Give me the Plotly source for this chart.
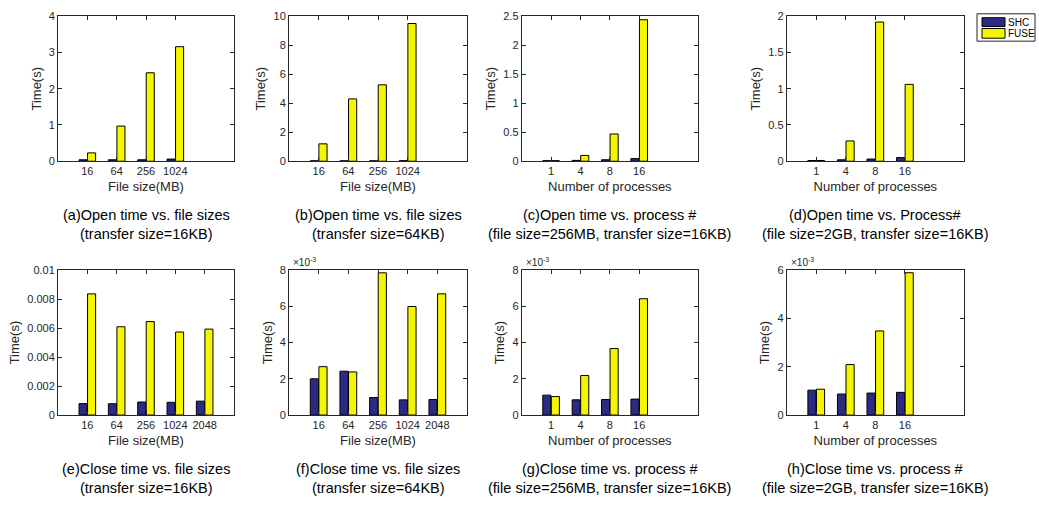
import plotly.graph_objects as go

W, H = 1039, 506

size_cats4 = ["16", "64", "256", "1024"]
size_cats5 = ["16", "64", "256", "1024", "2048"]
proc_cats = ["1", "4", "8", "16"]
series_names = ["SHC", "FUSE"]

# (a) Open time vs file sizes, transfer 16KB
a_shc = [0.04, 0.04, 0.04, 0.06]
a_fuse = [0.23, 0.97, 2.44, 3.16]
# (b) Open time vs file sizes, transfer 64KB
b_shc = [0.03, 0.03, 0.03, 0.04]
b_fuse = [1.2, 4.3, 5.27, 9.5]
# (c) Open time vs process #, 256MB
c_shc = [0.01, 0.015, 0.025, 0.045]
c_fuse = [0.01, 0.1, 0.47, 2.44]
# (d) Open time vs process #, 2GB
d_shc = [0.01, 0.02, 0.03, 0.05]
d_fuse = [0.01, 0.28, 1.92, 1.06]
# (e) Close time vs file sizes, 16KB
e_shc = [0.00079, 0.00078, 0.00090, 0.00088, 0.00096]
e_fuse = [0.00836, 0.00609, 0.00645, 0.00573, 0.00593]
# (f) Close time vs file sizes, 64KB
f_shc = [0.00200, 0.00242, 0.00097, 0.00084, 0.00086]
f_fuse = [0.00267, 0.00238, 0.00785, 0.00599, 0.00669]
# (g) Close time vs process #, 256MB
g_shc = [0.00110, 0.00084, 0.00086, 0.00088]
g_fuse = [0.00102, 0.00218, 0.00367, 0.00642]
# (h) Close time vs process #, 2GB
h_shc = [0.00103, 0.00087, 0.00091, 0.00094]
h_fuse = [0.00107, 0.00209, 0.00348, 0.00589]

captions = [
    ("(a)Open time vs. file sizes", "(transfer size=16KB)"),
    ("(b)Open time vs. file sizes", "(transfer size=64KB)"),
    ("(c)Open time vs. process #", "(file size=256MB, transfer size=16KB)"),
    ("(d)Open time vs. Process#", "(file size=2GB, transfer size=16KB)"),
    ("(e)Close time vs. file sizes", "(transfer size=16KB)"),
    ("(f)Close time vs. file sizes", "(transfer size=64KB)"),
    ("(g)Close time vs. process #", "(file size=256MB, transfer size=16KB)"),
    ("(h)Close time vs. process #", "(file size=2GB, transfer size=16KB)"),
]

xlabels = ["File size(MB)", "File size(MB)", "Number of processes", "Number of processes",
           "File size(MB)", "File size(MB)", "Number of processes", "Number of processes"]

panels = [
    (size_cats4, a_shc, a_fuse, [0, 4], [0, 1, 2, 3, 4], ["0", "1", "2", "3", "4"], False),
    (size_cats4, b_shc, b_fuse, [0, 10], [0, 2, 4, 6, 8, 10], ["0", "2", "4", "6", "8", "10"], False),
    (proc_cats, c_shc, c_fuse, [0, 2.5], [0, 0.5, 1, 1.5, 2, 2.5], ["0", "0.5", "1", "1.5", "2", "2.5"], False),
    (proc_cats, d_shc, d_fuse, [0, 2], [0, 0.5, 1, 1.5, 2], ["0", "0.5", "1", "1.5", "2"], False),
    (size_cats5, e_shc, e_fuse, [0, 0.01], [0, 0.002, 0.004, 0.006, 0.008, 0.01],
     ["0", "0.002", "0.004", "0.006", "0.008", "0.01"], False),
    (size_cats5, f_shc, f_fuse, [0, 0.008], [0, 0.002, 0.004, 0.006, 0.008], ["0", "2", "4", "6", "8"], True),
    (proc_cats, g_shc, g_fuse, [0, 0.008], [0, 0.002, 0.004, 0.006, 0.008], ["0", "2", "4", "6", "8"], True),
    (proc_cats, h_shc, h_fuse, [0, 0.006], [0, 0.002, 0.004, 0.006], ["0", "2", "4", "6"], True),
]

col_px = [(58, 234), (289, 467), (521.7, 698), (786.7, 964)]
row_px = [(10.5, 159), (270.5, 419)]
caption_px = [(214, 234), (474, 494)]

SHC_COLOR = "#2b2b86"
FUSE_COLOR = "#f5f500"
COLORS = [SHC_COLOR, FUSE_COLOR]
AX = "#262626"
FONT = "Liberation Sans, Arial, Helvetica, sans-serif"

fig = go.Figure()
annotations = []
shapes = []

for i, (cats, shc, fuse, yr, tv, tt, expo) in enumerate(panels):
    r, c = divmod(i, 4)
    n = i + 1
    xa = "x" if n == 1 else f"x{n}"
    ya = "y" if n == 1 else f"y{n}"
    xs = list(range(1, len(cats) + 1))
    fig.add_trace(go.Bar(x=xs, y=shc, name="SHC", marker=dict(color=SHC_COLOR, line=dict(color="black", width=1)),
                         xaxis=xa, yaxis=ya, showlegend=False, legendgroup="SHC", offsetgroup="SHC"))
    fig.add_trace(go.Bar(x=xs, y=fuse, name="FUSE", marker=dict(color=FUSE_COLOR, line=dict(color="black", width=1)),
                         xaxis=xa, yaxis=ya, showlegend=False, legendgroup="FUSE", offsetgroup="FUSE"))
    x0, x1 = col_px[c]
    y0, y1 = row_px[r]
    xkey = "xaxis" if n == 1 else f"xaxis{n}"
    ykey = "yaxis" if n == 1 else f"yaxis{n}"
    fig.update_layout(**{
        xkey: dict(domain=[x0 / W, x1 / W], anchor=ya, range=[0, 6], tickmode="array",
                   tickvals=xs, ticktext=cats, ticks="inside", ticklen=4, tickcolor=AX,
                   showline=True, linecolor=AX, linewidth=1, mirror="allticks", showgrid=False,
                   zeroline=False, tickfont=dict(size=11, color=AX, family=FONT),
                   title=dict(text=xlabels[i], font=dict(size=13, color=AX, family=FONT), standoff=5)),
        ykey: dict(domain=[1 - y1 / H, 1 - y0 / H], anchor=xa, range=yr, tickmode="array",
                   tickvals=tv, ticktext=tt, ticks="inside", ticklen=4, tickcolor=AX,
                   showline=True, linecolor=AX, linewidth=1, mirror="allticks", showgrid=False,
                   zeroline=False, tickfont=dict(size=11, color=AX, family=FONT),
                   title=dict(text="Time(s)", font=dict(size=13, color=AX, family=FONT), standoff=4)),
    })
    cx = (x0 + x1) / 2 / W
    l1, l2 = captions[i]
    cy1, cy2 = caption_px[r]
    annotations.append(dict(text=l1, x=cx, y=1 - cy1 / H, xref="paper", yref="paper", showarrow=False,
                            xanchor="center", yanchor="middle", font=dict(size=14.5, color="black", family=FONT)))
    annotations.append(dict(text=l2, x=cx, y=1 - cy2 / H, xref="paper", yref="paper", showarrow=False,
                            xanchor="center", yanchor="middle", font=dict(size=14.5, color="black", family=FONT)))
    if expo:
        annotations.append(dict(text="×10<sup>-3</sup>", x=x0 / W + 0.002, y=1 - y0 / H, xref="paper", yref="paper",
                                showarrow=False, xanchor="left", yanchor="bottom",
                                font=dict(size=10, color=AX, family=FONT)))

# Legend box (MATLAB style) in the top-right corner
lg_box = (977, 8, 1035, 36)
lg_rows = [(12, 21), (23, 33)]
shapes.append(dict(type="rect", xref="paper", yref="paper", x0=lg_box[0] / W, x1=lg_box[2] / W,
                   y0=1 - lg_box[3] / H, y1=1 - lg_box[1] / H, line=dict(color=AX, width=1), fillcolor="white"))
for (ya0, ya1), name, col in zip(lg_rows, series_names, COLORS):
    shapes.append(dict(type="rect", xref="paper", yref="paper", x0=982 / W, x1=1005 / W,
                       y0=1 - ya1 / H, y1=1 - ya0 / H, line=dict(color="black", width=1), fillcolor=col))
    annotations.append(dict(text=name, x=1006 / W, y=1 - (ya0 + ya1) / 2 / H, xref="paper", yref="paper",
                            showarrow=False, xanchor="left", yanchor="middle",
                            font=dict(size=10, color="black", family=FONT)))

fig.update_layout(
    width=W, height=H, margin=dict(l=0, r=0, t=0, b=0),
    paper_bgcolor="white", plot_bgcolor="white",
    barmode="group", bargap=0.42, bargroupgap=0.05,
    annotations=annotations, shapes=shapes,
    showlegend=False,
    font=dict(family=FONT),
)

fig.write_html("out.html", config={"displayModeBar": False},
               post_script="document.body.style.margin='0';document.body.style.padding='0';")
